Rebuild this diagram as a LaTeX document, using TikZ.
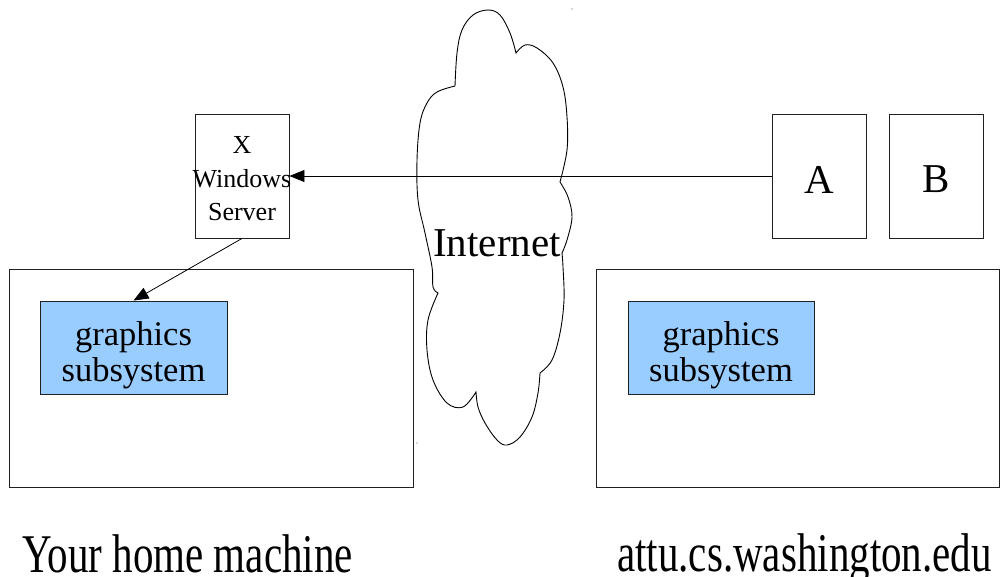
\documentclass[tikz,border=0pt]{standalone}
\usepackage{fontspec}
\setmainfont{Liberation Serif}
\usetikzlibrary{arrows.meta}

\definecolor{gfxblue}{HTML}{99CCFF}
\definecolor{edge}{HTML}{202020}

\tikzset{
  box/.style={draw=edge, line width=0.9pt, rectangle, inner sep=0pt},
  machine/.style={box, minimum width=404pt, minimum height=218pt},
  gfx/.style={box, fill=gfxblue, minimum width=187pt, minimum height=93pt},
  win/.style={box, minimum width=94pt, minimum height=124pt},
  txt/.style={inner sep=0pt, align=center},
  flow/.style={draw=black, line width=0.8pt, -{Triangle[length=15pt,width=12pt]}},
  cloudline/.style={draw=black, line width=0.9pt}
}

\newcommand{\bigfont}{\fontsize{41}{49}\selectfont}
\newcommand{\midfont}{\fontsize{34.5}{36}\selectfont}
\newcommand{\smallfont}{\fontsize{26}{33.5}\selectfont}

\begin{document}
\begin{tikzpicture}[x=1pt, y=-1pt]
  \useasboundingbox (0,0) rectangle (1000,576);

  % the network cloud
  \draw[cloudline]
    (455,86)
    -- plot[smooth, tension=0.6] coordinates {(455,86) (457,53) (462,30) (473,15) (488,10) (500,15) (510,33) (516,53)}
    -- plot[smooth, tension=0.6] coordinates {(516,53) (525,45) (537,48) (553,63) (563,87) (567,117) (567,150) (560,182)}
    -- plot[smooth, tension=0.6] coordinates {(560,182) (568,197) (572,217) (567,240) (562,253)}
    -- plot[smooth, tension=0.6] coordinates {(562,253) (563,267) (564,300) (560,333) (552,360) (540,373)}
    -- plot[smooth, tension=0.6] coordinates {(540,373) (538,393) (532,417) (520,437) (507,445) (497,440) (485,423) (478,407) (476,392)}
    -- plot[smooth, tension=0.6] coordinates {(476,392) (463,407) (447,403) (433,380) (427,350) (428,320) (438,293)}
    -- plot[smooth, tension=0.6] coordinates {(438,293) (433,287) (432,267) (425,233) (418,200) (417,160) (420,123) (427,103) (437,92) (455,86)}
    -- cycle;
  \node[txt, font=\bigfont] (internet) at (497,243.5) {Internet};
  \fill[gray!60] (572,9) circle (0.8pt) (417,443) circle (0.8pt);

  % home machine
  \node[machine] (home) at (211,378) {};
  \node[gfx] (hgfx) at (133.5,347.5) {};
  \node[txt, font=\midfont] (hgfxlabel) at (133.5,355) {graphics\\subsystem};
  \node[win] (xsrv) at (242,176) {};
  \node[txt, font=\smallfont] (xsrvlabel) at (242,179) {X\\Windows\\Server};

  % remote machine
  \node[machine, minimum width=403pt] (remote) at (797.5,378) {};
  \node[gfx, minimum width=186pt] (rgfx) at (721,347.5) {};
  \node[txt, font=\midfont] (rgfxlabel) at (721,355) {graphics\\subsystem};
  \node[win] (appa) at (819,176) {};
  \node[txt, font=\bigfont] (appalabel) at (819,179.5) {A};
  \node[win] (appb) at (936,176) {};
  \node[txt, font=\bigfont] (appblabel) at (936,179.5) {B};

  % display traffic
  \draw[flow] (appa.west) -- (xsrv.east);
  \draw[flow] (xsrv.south) -- (hgfx.north);

  % captions
  \node[inner sep=0pt, anchor=base west, font=\bigfont] (homecap) at (22,572) {\scalebox{1}[1.33]{Your home machine}};
  \node[inner sep=0pt, anchor=base west, font=\bigfont] (remotecap) at (617,571) {\scalebox{1}[1.33]{attu.cs.washington.edu}};
\end{tikzpicture}
\end{document}
